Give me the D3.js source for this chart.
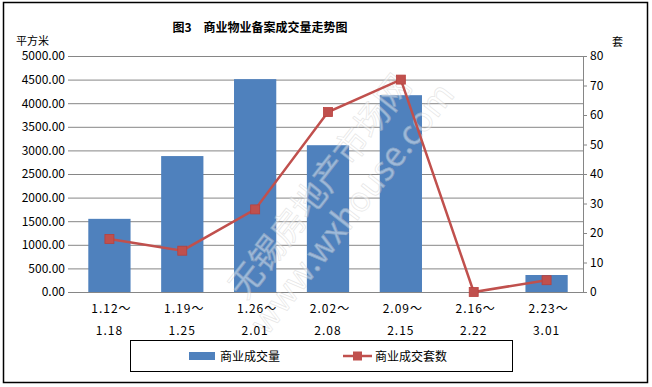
<!DOCTYPE html>
<html>
<head>
<meta charset="utf-8">
<script src="https://d3js.org/d3.v7.min.js"></script>
<style>
  body { margin: 0; background: #fff; }
  text { font-family: "Noto Sans CJK SC", "DejaVu Sans", sans-serif; }
</style>
</head>
<body>
<svg id="chart" width="652" height="387"></svg>
<script>
// weekly data
const weeks = ["1.12～|1.18", "1.19～|1.25", "1.26～|2.01", "2.02～|2.08", "2.09～|2.15", "2.16～|2.22", "2.23～|3.01"]
const area = [1550, 2880, 4510, 3110, 4170, 0, 360]
const units = [18, 14, 28, 61, 72, 0, 4]
const leftTicks = [0, 500, 1000, 1500, 2000, 2500, 3000, 3500, 4000, 4500, 5000]
const rightTicks = [0, 10, 20, 30, 40, 50, 60, 70, 80]

const blue = "#4f81bd", red = "#c0504d", grid = "#868686"
const svg = d3.select("#chart")

// outer frame
svg.append("rect").attr("x", 3.5).attr("y", 2.5).attr("width", 644).attr("height", 380)
  .attr("fill", "#fff").attr("stroke", "#000").attr("stroke-width", 1.5)

const plotL = 73, plotR = 583, plotT = 56, plotB = 292

const x = d3.scaleBand().domain(weeks).range([plotL, plotR]).paddingInner(0.42).paddingOuter(0.21)
const yL = d3.scaleLinear().domain([0, 5000]).range([plotB, plotT])
const yR = d3.scaleLinear().domain([0, 80]).range([plotB, plotT])

// left axis: gridlines + labels
const gL = svg.append("g").attr("transform", `translate(${plotL},0)`)
  .call(d3.axisLeft(yL).tickValues(leftTicks).tickSize(-(plotR - plotL)).tickSizeOuter(0)
    .tickFormat(d => d3.format(".2f")(d)).tickPadding(8))
gL.select(".domain").remove()
gL.selectAll(".tick line").attr("stroke", grid).attr("x1", -5)
gL.selectAll(".tick text").attr("font-size", 12).attr("fill", "#000")

// bars
svg.selectAll(".bar").data(area).enter().append("rect")
  .attr("class", "bar")
  .attr("x", (d, i) => x(weeks[i]))
  .attr("y", d => yL(d))
  .attr("width", x.bandwidth())
  .attr("height", d => plotB - yL(d))
  .attr("fill", blue)

// watermark
const wm = svg.append("g").attr("opacity", 0.45)
wm.append("text").attr("transform", "translate(322,188) rotate(-52)")
  .attr("text-anchor", "middle").attr("dominant-baseline", "middle")
  .attr("font-size", 34).attr("fill", "#fff").attr("stroke", "#c8c8c8").attr("stroke-width", 0.7)
  .text("无锡房地产市场网")
wm.append("text").attr("transform", "translate(354,210) rotate(-52)")
  .attr("text-anchor", "middle").attr("dominant-baseline", "middle")
  .attr("font-size", 34).attr("fill", "#fff").attr("stroke", "#c8c8c8").attr("stroke-width", 0.7)
  .text("www.wxhouse.com")

// right axis
const gR = svg.append("g").attr("transform", `translate(${plotR},0)`)
  .call(d3.axisRight(yR).tickValues(rightTicks).tickSize(4).tickSizeOuter(0).tickPadding(3))
gR.select(".domain").attr("stroke", grid)
gR.selectAll(".tick line").attr("stroke", grid)
gR.selectAll(".tick text").attr("font-size", 12).attr("fill", "#000")

// line series
const cx = (d, i) => x(weeks[i]) + x.bandwidth() / 2
svg.append("path").datum(units)
  .attr("d", d3.line().x(cx).y(d => yR(d)))
  .attr("fill", "none").attr("stroke", red).attr("stroke-width", 2.5)
svg.selectAll(".mk").data(units).enter().append("rect")
  .attr("class", "mk")
  .attr("x", (d, i) => cx(d, i) - 4.5).attr("y", d => yR(d) - 4.5)
  .attr("width", 9).attr("height", 9)
  .attr("fill", red).attr("stroke", "#b8403d").attr("stroke-width", 0.8)

// x labels
weeks.forEach((w, i) => {
  const parts = w.split("|")
  const t = svg.append("text").attr("x", x(w) + x.bandwidth() / 2).attr("text-anchor", "middle")
    .attr("font-size", 12).attr("letter-spacing", 1)
  t.append("tspan").attr("x", x(w) + x.bandwidth() / 2 + 2).attr("y", 313).text(parts[0])
  t.append("tspan").attr("x", x(w) + x.bandwidth() / 2).attr("y", 335).text(parts[1])
})

// title and units
svg.append("text").attr("x", 260).attr("y", 32).attr("text-anchor", "middle")
  .attr("font-size", 12).attr("font-weight", "bold").text("图3　商业物业备案成交量走势图")
svg.append("text").attr("x", 16).attr("y", 45).attr("font-size", 11).text("平方米")
svg.append("text").attr("x", 612).attr("y", 46).attr("font-size", 11).text("套")

// legend
svg.append("rect").attr("x", 130.5).attr("y", 340.5).attr("width", 382).attr("height", 31)
  .attr("fill", "#fff").attr("stroke", "#000").attr("stroke-width", 1)
svg.append("rect").attr("x", 189).attr("y", 352).attr("width", 26).attr("height", 8).attr("fill", blue)
svg.append("text").attr("x", 220).attr("y", 361).attr("font-size", 12).text("商业成交量")
svg.append("line").attr("x1", 343).attr("x2", 372).attr("y1", 356).attr("y2", 356)
  .attr("stroke", red).attr("stroke-width", 2.5)
svg.append("rect").attr("x", 353).attr("y", 351.5).attr("width", 9).attr("height", 9).attr("fill", red)
svg.append("text").attr("x", 375).attr("y", 361).attr("font-size", 12).text("商业成交套数")
</script>
</body>
</html>
